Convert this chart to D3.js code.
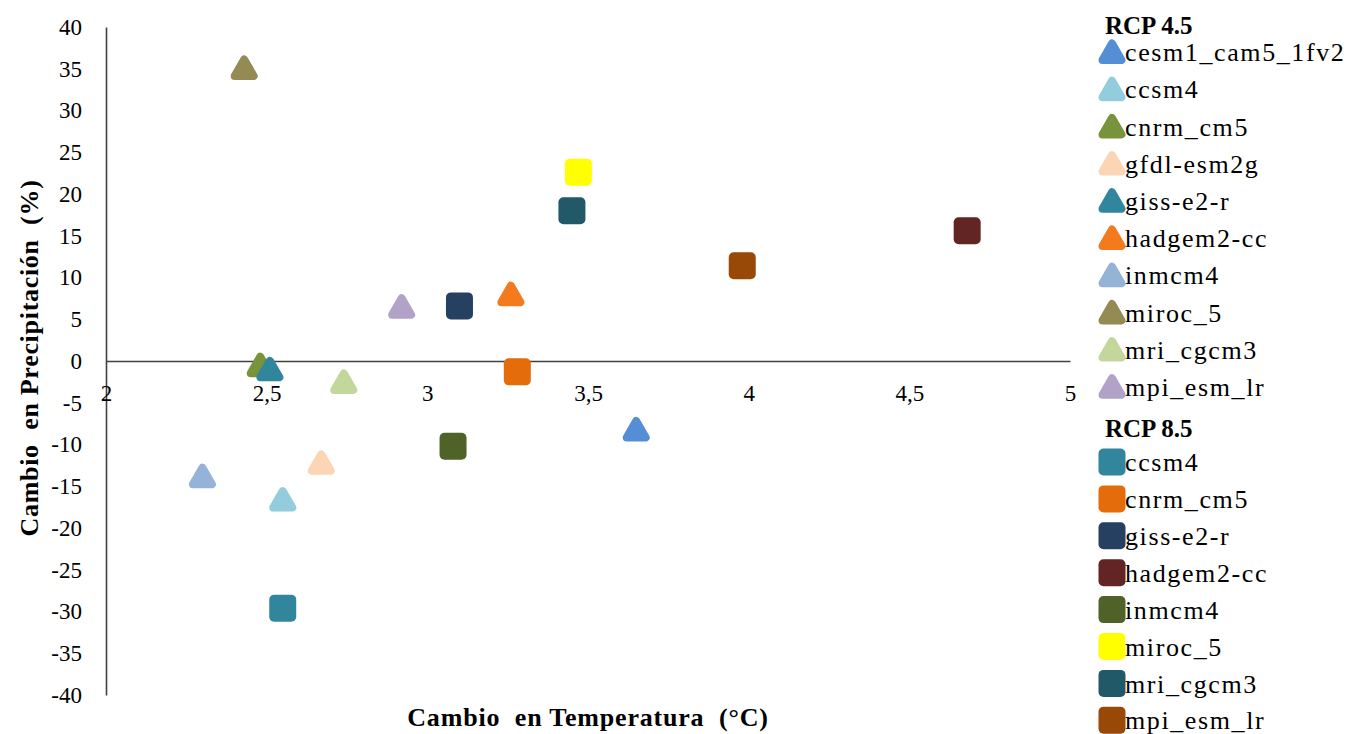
<!DOCTYPE html>
<html>
<head>
<meta charset="utf-8">
<script src="https://cdn.jsdelivr.net/npm/d3@7"></script>
<style>
  body { margin: 0; background: #fff; }
</style>
</head>
<body>
<div id="chart-container"></div>
<script>
// Datos: cambio en temperatura (°C) y precipitación (%)
const models45 = ["cesm1_cam5_1fv2", "ccsm4", "cnrm_cm5", "gfdl-esm2g", "giss-e2-r", "hadgem2-cc", "inmcm4", "miroc_5", "mri_cgcm3", "mpi_esm_lr"];
const temp45 = [3.65, 2.55, 2.48, 2.67, 2.51, 3.26, 2.30, 2.43, 2.74, 2.92];
const precip45 = [-8.2, -16.6, -0.5, -12.2, -1.0, 8.0, -13.8, 35.1, -2.5, 6.5];
const colors45 = ["#558ed5", "#93cddd", "#77933c", "#fcd5b5", "#31859c", "#f47a1e", "#95b3d7", "#948a54", "#c3d69b", "#b3a2c7"];

const models85 = ["ccsm4", "cnrm_cm5", "giss-e2-r", "hadgem2-cc", "inmcm4", "miroc_5", "mri_cgcm3", "mpi_esm_lr"];
const temp85 = [2.55, 3.28, 3.10, 4.68, 3.08, 3.47, 3.45, 3.98];
const precip85 = [-29.6, -1.3, 6.6, 15.6, -10.2, 22.6, 18.0, 11.4];
const colors85 = ["#31859c", "#e46c0a", "#254061", "#632523", "#4f6228", "#ffff00", "#215968", "#984807"];

const xTicks = [2, 2.5, 3, 3.5, 4, 4.5, 5];
const yTicks = [40, 35, 30, 25, 20, 15, 10, 5, 0, -5, -10, -15, -20, -25, -30, -35, -40];

const FONT = "'Liberation Serif', 'Times New Roman', serif";
const width = 1349, height = 734;
const svg = d3.select("#chart-container").append("svg")
  .attr("width", width).attr("height", height)
  .attr("font-family", FONT);

const x = d3.scaleLinear().domain([2, 5]).range([106, 1070]);
const y = d3.scaleLinear().domain([-40, 40]).range([695, 27]);

const comma = d => String(d).replace(".", ",");

// Eje Y
const yAxis = svg.append("g")
  .attr("transform", `translate(${x(2)},0)`)
  .call(d3.axisLeft(y).tickValues(yTicks).tickSize(0).tickSizeOuter(0).tickPadding(24).tickFormat(d => d));
// Eje X (en y = 0)
const xAxis = svg.append("g")
  .attr("transform", `translate(0,${y(0)})`)
  .call(d3.axisBottom(x).tickValues(xTicks).tickSize(0).tickSizeOuter(0).tickFormat(comma));

[yAxis, xAxis].forEach(a => {
  a.attr("font-family", FONT).attr("font-size", 23);
  a.select(".domain").attr("stroke", "#404040").attr("stroke-width", 1.6);
  a.selectAll("text").attr("fill", "#000");
});
xAxis.selectAll("text").attr("y", 33).attr("dy", "0.32em");

// Marcadores
const triPath = "M0,-8.5 L9.5,8 L-9.5,8 Z";
function triangle(sel, color) {
  sel.append("path").attr("d", triPath)
    .attr("fill", color).attr("stroke", color)
    .attr("stroke-width", 8).attr("stroke-linejoin", "round");
}
function square(sel, color) {
  sel.append("rect").attr("x", -13.5).attr("y", -13.5)
    .attr("width", 27).attr("height", 27).attr("rx", 5)
    .attr("fill", color);
}

const plot = svg.append("g");
models45.forEach((m, i) => {
  const g = plot.append("g").attr("transform", `translate(${x(temp45[i])},${y(precip45[i])})`);
  triangle(g, colors45[i]);
});
models85.forEach((m, i) => {
  const g = plot.append("g").attr("transform", `translate(${x(temp85[i])},${y(precip85[i])})`);
  square(g, colors85[i]);
});

// Títulos de ejes
svg.append("text")
  .attr("x", 588).attr("y", 726)
  .attr("text-anchor", "middle")
  .attr("font-size", 26).attr("font-weight", "bold").attr("letter-spacing", 0.8)
  .style("white-space", "pre")
  .text("Cambio  en Temperatura  (°C)");

svg.append("text")
  .attr("transform", `translate(38,358) rotate(-90)`)
  .attr("text-anchor", "middle")
  .attr("font-size", 26).attr("font-weight", "bold").attr("letter-spacing", 0.7)
  .style("white-space", "pre")
  .text("Cambio  en Precipitación  (%)");

// Leyenda
const legend = svg.append("g");
function legendBlock(title, titleY, names, cols, y0, step, marker) {
  legend.append("text")
    .attr("x", 1105).attr("y", titleY)
    .attr("font-size", 25).attr("font-weight", "bold")
    .text(title);
  names.forEach((n, i) => {
    const cy = y0 + i * step;
    const g = legend.append("g").attr("transform", `translate(1112,${cy})`);
    marker(g, cols[i]);
    legend.append("text")
      .attr("x", 1125).attr("y", cy).attr("dy", "0.35em")
      .attr("font-size", 26).attr("letter-spacing", 1.6)
      .text(n);
  });
}
legendBlock("RCP 4.5", 34, models45, colors45, 52, 37.2, triangle);
legendBlock("RCP 8.5", 437, models85, colors85, 462, 36.9, square);
</script>
</body>
</html>
